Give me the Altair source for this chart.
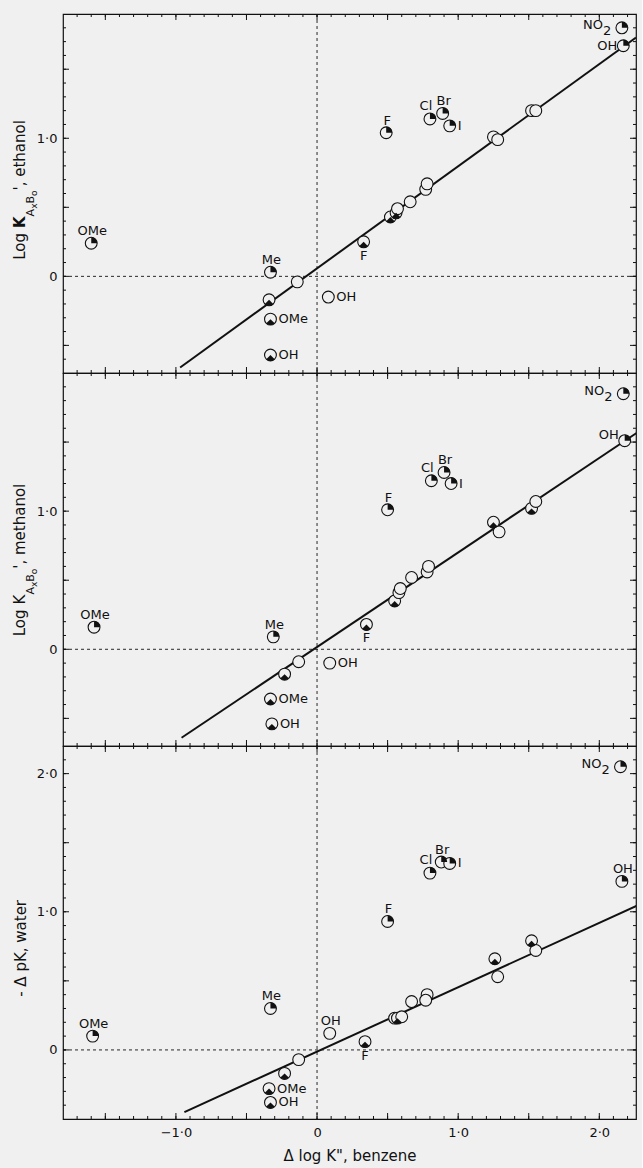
import altair as alt
import numpy as np
import pandas as pd

FONT = "DejaVu Sans"
BG = "#f0f0f0"
INK = "#111111"

X_DOMAIN = [-1.80, 2.26]
PLOT_W = 573

# ---------------- data ----------------
# Panel 1: log K (ethanol) vs delta log K'' (benzene)
eth_x = [-1.60, -0.33, -0.14, -0.34, -0.33, -0.33, 0.08, 0.33, 0.49, 0.80, 0.89, 0.94,
         2.16, 2.17, 0.52, 0.56, 0.57, 0.66, 0.77, 0.78, 1.25, 1.28, 1.52, 1.55]
eth_y = [0.24, 0.03, -0.04, -0.17, -0.31, -0.57, -0.15, 0.25, 1.04, 1.14, 1.18, 1.09,
         1.80, 1.67, 0.43, 0.46, 0.49, 0.54, 0.63, 0.67, 1.01, 0.99, 1.20, 1.20]
eth_kind = ["q", "q", "o", "b", "b", "b", "o", "b", "q", "q", "q", "q",
            "q", "q", "b", "b", "o", "o", "o", "o", "o", "o", "o", "o"]
eth_label = ["OMe", "Me", "", "", "OMe", "OH", "OH", "F", "F", "Cl", "Br", "I",
             "NO₂", "OH", "", "", "", "", "", "", "", "", "", ""]
eth_place = ["above", "above", "", "", "right", "right", "right", "below", "above", "aboveleft", "above", "right",
             "leftsub", "left", "", "", "", "", "", "", "", "", "", ""]
eth_fit_x = [-0.97, 2.26]
eth_fit_y = [-0.66, 1.73]

# Panel 2: log K (methanol)
met_x = [-1.58, -0.31, -0.13, -0.23, -0.33, -0.32, 0.09, 0.35, 0.50, 0.81, 0.90, 0.95,
         2.17, 2.18, 0.55, 0.58, 0.59, 0.67, 0.78, 0.79, 1.25, 1.29, 1.52, 1.55]
met_y = [0.16, 0.09, -0.09, -0.18, -0.36, -0.54, -0.10, 0.18, 1.01, 1.22, 1.28, 1.20,
         1.85, 1.51, 0.35, 0.41, 0.44, 0.52, 0.56, 0.60, 0.92, 0.85, 1.02, 1.07]
met_kind = ["q", "q", "o", "b", "b", "b", "o", "b", "q", "q", "q", "q",
            "q", "q", "b", "o", "o", "o", "o", "o", "b", "o", "b", "o"]
met_label = ["OMe", "Me", "", "", "OMe", "OH", "OH", "F", "F", "Cl", "Br", "I",
             "NO₂", "OH", "", "", "", "", "", "", "", "", "", ""]
met_place = ["above", "above", "", "", "right", "right", "right", "below", "above", "aboveleft", "above", "right",
             "leftsub", "leftup", "", "", "", "", "", "", "", "", "", ""]
met_fit_x = [-0.96, 2.27]
met_fit_y = [-0.64, 1.57]

# Panel 3: -delta pK (water)
wat_x = [-1.59, -0.33, -0.13, -0.23, -0.34, -0.33, 0.09, 0.34, 0.50, 0.80, 0.88, 0.94,
         2.15, 2.16, 0.55, 0.57, 0.60, 0.67, 0.78, 0.77, 1.26, 1.28, 1.52, 1.55]
wat_y = [0.10, 0.30, -0.07, -0.17, -0.28, -0.38, 0.12, 0.06, 0.93, 1.28, 1.36, 1.35,
         2.05, 1.22, 0.23, 0.23, 0.24, 0.35, 0.40, 0.36, 0.66, 0.53, 0.79, 0.72]
wat_kind = ["q", "q", "o", "b", "b", "b", "o", "b", "q", "q", "q", "q",
            "q", "q", "o", "b", "o", "o", "o", "o", "b", "o", "b", "o"]
wat_label = ["OMe", "Me", "", "", "OMe", "OH", "OH", "F", "F", "Cl", "Br", "I",
             "NO₂", "OH", "", "", "", "", "", "", "", "", "", ""]
wat_place = ["above", "above", "", "", "right", "right", "above", "below", "above", "aboveleft", "above", "right",
             "leftsub", "above", "", "", "", "", "", "", "", "", "", ""]
wat_fit_x = [-0.94, 2.28]
wat_fit_y = [-0.45, 1.05]

X_LABEL_VALUES = [-1, 0, 1, 2]
X_TICK_MAJOR = [-1.5, -1.0, -0.5, 0.0, 0.5, 1.0, 1.5, 2.0]
X_TICK_MINOR = [round(v, 1) for v in np.arange(-1.7, 2.25, 0.1)]

# ---------------- styling helpers ----------------
Q_PATH = "M0,0L0,-1A1,1,0,0,1,1,0Z"
B_PATH = "M0,0L0.71,0.71A1,1,0,0,1,-0.71,0.71Z"
LBL = "datum.value == 0 ? '0' : replace(format(datum.value, '.1f'), '.', '·')"

PLACES = {
    "above": dict(dx=1, dy=-8, align="center", baseline="alphabetic"),
    "aboveleft": dict(dx=-4, dy=-9, align="center", baseline="alphabetic"),
    "right": dict(dx=8, dy=0, align="left", baseline="middle"),
    "below": dict(dx=0, dy=8, align="center", baseline="top"),
    "left": dict(dx=-6, dy=0, align="right", baseline="middle"),
    "leftup": dict(dx=-6, dy=-6, align="right", baseline="middle"),
}

EM = {" ": .318, "'": .275, ",": .318, "A": .684, "B": .686, "K": .656, "L": .557,
      "a": .613, "e": .615, "g": .635, "h": .634, "l": .278, "m": .974, "n": .634,
      "o": .612, "t": .392, "x": .592, "w": .818, "r": .411, "p": .635, "Δ": .684, "-": .361}
EM_BOLD = {"K": .775}

ONE = pd.DataFrame({"a": [0]})


def text_width(t, size, weight):
    tab = EM_BOLD if weight == "bold" else {}
    return sum(tab.get(c, EM.get(c, .6)) for c in t) * size


def title_layers(frags, center_y):
    widths = [text_width(t, s, w) for (t, s, w, bx) in frags]
    y = center_y + sum(widths) / 2
    out = []
    for (t, s, w, bx), wd in zip(frags, widths):
        out.append(
            alt.Chart(ONE).mark_text(text=t, font=FONT, fontSize=s, fontWeight=w, angle=270,
                                     align="left", baseline="alphabetic", color=INK)
            .encode(x=alt.value(bx), y=alt.value(y))
        )
        y -= wd
    return out


def panel(xs, ys, kinds, labels, places, fit_x, fit_y, ydom, height, ylab_vals,
          ytick_major, title_frags, title_center, show_x):
    pts = pd.DataFrame({"x": xs, "y": ys, "kind": kinds, "label": labels, "place": places})
    xsc = alt.Scale(domain=X_DOMAIN, nice=False, zero=False)
    ysc = alt.Scale(domain=ydom, nice=False, zero=False)
    if show_x:
        xax = alt.Axis(values=X_LABEL_VALUES, labelExpr=LBL, domain=False, ticks=False, tickSize=0,
                       grid=False, labelPadding=7, labelFontSize=13,
                       title='Δ log K", benzene', titlePadding=9, titleFontSize=15)
    else:
        xax = None
    yax = alt.Axis(values=ylab_vals, labelExpr=LBL, domain=False, ticks=False, tickSize=0,
                   grid=False, labelPadding=6, labelFontSize=13, title=None)

    def X(f):
        return alt.X(f + ":Q", scale=xsc, axis=xax)

    def Y(f):
        return alt.Y(f + ":Q", scale=ysc, axis=yax)

    lo = ydom[0]
    hi = ydom[1]
    ytick_minor = [round(v, 1) for v in np.arange(lo + 0.1, hi - 0.05, 0.1)]

    layers = []
    for vals, L in ((X_TICK_MINOR, 3), (X_TICK_MAJOR, 6)):
        base = alt.Chart(pd.DataFrame({"v": vals})).mark_rule(color=INK, strokeWidth=1)
        layers.append(base.encode(x=X("v"), y=alt.value(0), y2=alt.value(L)))
        layers.append(base.encode(x=X("v"), y=alt.value(height), y2=alt.value(height - L)))
    for vals, L in ((ytick_minor, 3), (ytick_major, 6)):
        base = alt.Chart(pd.DataFrame({"v": vals})).mark_rule(color=INK, strokeWidth=1)
        layers.append(base.encode(y=Y("v"), x=alt.value(0), x2=alt.value(L)))
        layers.append(base.encode(y=Y("v"), x=alt.value(PLOT_W), x2=alt.value(PLOT_W - L)))

    zero = pd.DataFrame({"v": [0.0]})
    layers.append(alt.Chart(zero).mark_rule(color=INK, strokeDash=[3, 3], strokeWidth=0.9).encode(x=X("v")))
    layers.append(alt.Chart(zero).mark_rule(color=INK, strokeDash=[3, 3], strokeWidth=0.9).encode(y=Y("v")))

    layers.append(
        alt.Chart(pd.DataFrame({"x": fit_x, "y": fit_y}))
        .mark_line(color=INK, strokeWidth=2, clip=True)
        .encode(x=X("x"), y=Y("y"))
    )

    layers.append(
        alt.Chart(pts).mark_point(shape="circle", filled=True, fill=BG, stroke=INK, strokeWidth=1.1,
                                  size=140, opacity=1)
        .encode(x=X("x"), y=Y("y"))
    )
    layers.append(
        alt.Chart(pts).transform_filter("datum.kind != 'o'")
        .mark_point(filled=True, fill=INK, size=140, opacity=1, strokeWidth=0)
        .encode(x=X("x"), y=Y("y"),
                shape=alt.Shape("kind:N", scale=alt.Scale(domain=["q", "b"], range=[Q_PATH, B_PATH]),
                                legend=None))
    )

    for name, p in PLACES.items():
        layers.append(
            alt.Chart(pts).transform_filter(f"datum.place == '{name}'")
            .mark_text(font=FONT, fontSize=13, color=INK, **p)
            .encode(x=X("x"), y=Y("y"), text="label:N")
        )
    sub = alt.Chart(pts).transform_filter("datum.place == 'leftsub'")
    layers.append(sub.mark_text(font=FONT, fontSize=13, color=INK, align="right", baseline="middle",
                                dx=-19, dy=-3).encode(x=X("x"), y=Y("y"), text=alt.value("NO")))
    layers.append(sub.mark_text(font=FONT, fontSize=13, color=INK, align="left", baseline="middle",
                                dx=-19, dy=3).encode(x=X("x"), y=Y("y"), text=alt.value("2")))

    layers += title_layers(title_frags, title_center)

    return alt.layer(*layers).properties(width=PLOT_W, height=height)


def logk_title(solvent, bold_k):
    return [("Log ", 15, "normal", -38), ("K", 15, "bold" if bold_k else "normal", -38),
            ("A", 11, "normal", -29), ("x", 9, "normal", -26), ("B", 11, "normal", -29),
            ("o", 9, "normal", -26), ("', " + solvent, 15, "normal", -38)]


p1 = panel(eth_x, eth_y, eth_kind, eth_label, eth_place, eth_fit_x, eth_fit_y,
           [-0.7, 1.9], 359, [0, 1], [-0.5, 0.0, 0.5, 1.0, 1.5],
           logk_title("ethanol", True), 176, False)
p2 = panel(met_x, met_y, met_kind, met_label, met_place, met_fit_x, met_fit_y,
           [-0.7, 2.0], 373, [0, 1], [-0.5, 0.0, 0.5, 1.0, 1.5],
           logk_title("methanol", False), 187, False)
p3 = panel(wat_x, wat_y, wat_kind, wat_label, wat_place, wat_fit_x, wat_fit_y,
           [-0.5, 2.2], 373, [0, 1, 2], [0.0, 0.5, 1.0, 1.5, 2.0],
           [("-  Δ pK, water", 15, "normal", -37)], 200, True)

chart = (
    alt.vconcat(p1, p2, p3, spacing=0, bounds="flush")
    .resolve_scale(x="independent", y="independent")
    .properties(background=BG, padding={"left": 12, "top": 12, "right": 4, "bottom": 4})
    .configure_view(stroke=INK, strokeWidth=1.2)
    .configure_axis(labelFont=FONT, labelColor=INK, titleFont=FONT, titleColor=INK,
                    titleFontWeight="normal")
)

chart.save("out.html", embed_options={"renderer": "svg", "actions": False})
